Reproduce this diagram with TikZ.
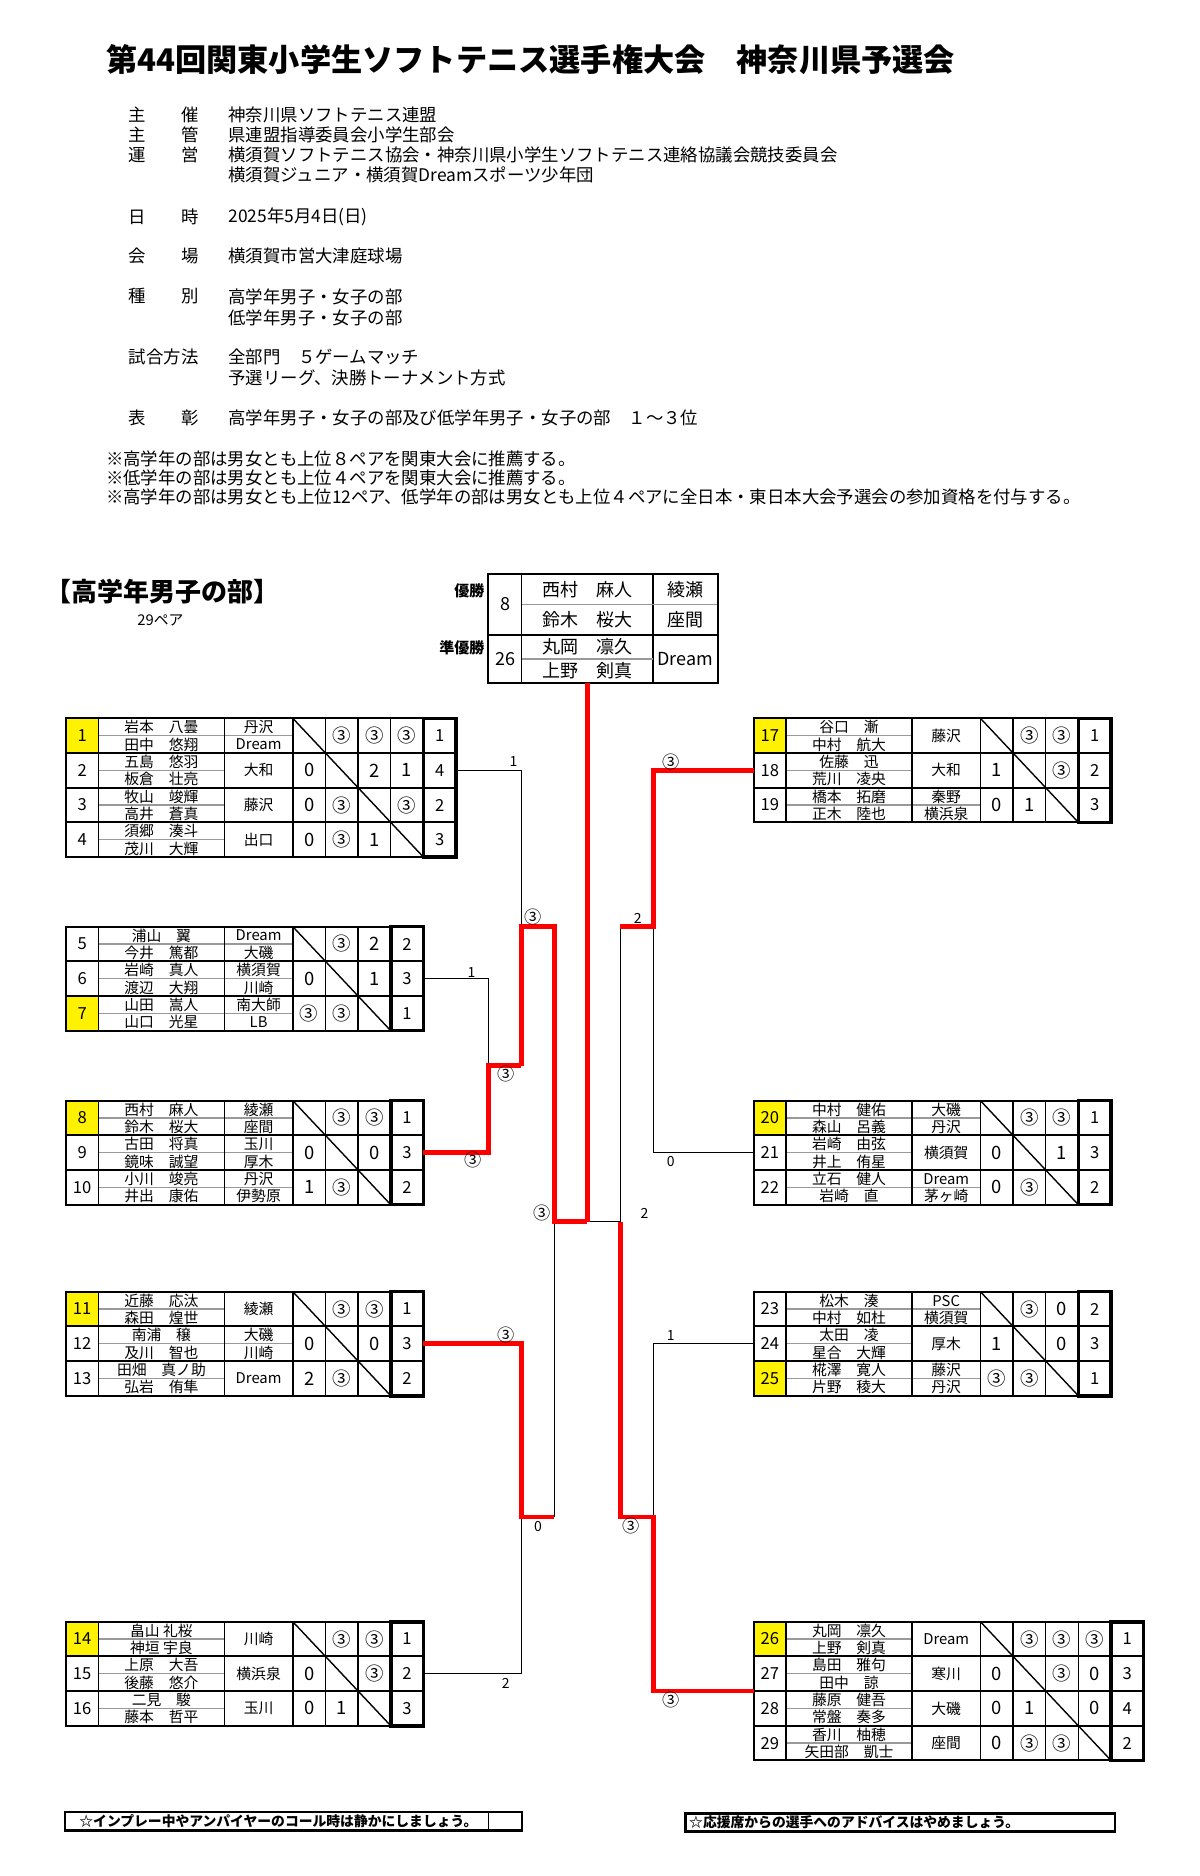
\documentclass[tikz,border=0pt]{standalone}
\usepackage{fontspec}
\setmainfont{Noto Sans CJK JP}
\usetikzlibrary{calc}
\newcommand\jfs[1]{\fontsize{#1pt}{#1pt}\selectfont}
\def\RH{28.9}
\def\SW{27.2}
\newcommand\TabStart[3]{\def\TX{#1}\def\TY{#2}\def\TN{#3}}
\newcommand\Row[9]{%
 \pgfmathsetmacro\RTOP{\TY+(#1-1)*\RH}%
 \pgfmathsetmacro\RMID{\RTOP+\RH/2}%
 \fill[#3] (\TX,\RTOP) rectangle ({\TX+27},{\RTOP+\RH});
 \node[tnum] (p#2) at ({\TX+13.5},\RMID) {#2};
 \node[tname] (p#2a) at ({\TX+79.5},{\RTOP+7.4}) {#4};
 \node[tname] (p#2b) at ({\TX+79.5},{\RTOP+21.8}) {#5};
 \draw[gline] ({\TX+27},\RMID) -- ({\TX+132},\RMID);
 \ifx\relax#7\relax
   \node[tname] (p#2t) at ({\TX+160.5},\RMID) {#6};
 \else
   \node[tname] (p#2t) at ({\TX+160.5},{\RTOP+7.4}) {#6};
   \node[tname] (p#2u) at ({\TX+160.5},{\RTOP+21.8}) {#7};
   \draw[gline] ({\TX+132},\RMID) -- ({\TX+189},\RMID);
 \fi
 \foreach \s [count=\j] in {#8} {\node[tsc] (p#2s\j) at ({\TX+189+(\j-0.5)*\SW},\RMID) {\s};}
 \node[tnum] (p#2r) at ({\TX+189+\TN*\SW+\SW/2},\RMID) {#9};
 \coordinate (p#2R) at ({\TX+189+(\TN+1)*\SW},\RMID);
 \coordinate (p#2L) at (\TX,\RMID);
}
\newcommand\TabEnd{%
 \pgfmathsetmacro\TB{\TY+\TN*\RH}%
 \pgfmathsetmacro\XS{\TX+189}%
 \pgfmathsetmacro\XR{\TX+189+\TN*\SW}%
 \pgfmathsetmacro\XE{\TX+189+(\TN+1)*\SW}%
 \pgfmathtruncatemacro\TM{\TN-1}%
 \foreach \i in {1,...,\TM} {\draw[rowline] (\TX,{\TY+\i*\RH}) -- (\XE,{\TY+\i*\RH});}
 \foreach \o in {27,132,189} {\draw[vline] ({\TX+\o},\TY) -- ({\TX+\o},\TB);}
 \foreach \i in {1,...,\TM} {\draw[vline] ({\XS+\i*\SW},\TY) -- ({\XS+\i*\SW},\TB);}
 \draw[vline] (\XS,\TY) -- (\XR,\TB);
 \draw[border] (\TX,\TY) rectangle (\XE,\TB);
 \draw[rankbox] (\XR,\TY) rectangle (\XE,\TB);
}
\begin{document}
\begin{tikzpicture}[x=0.6pt,y=-0.6pt,
 tname/.style={inner sep=0pt, font=\jfs{7.4}},
 tnum/.style={inner sep=0pt, font=\jfs{8.3}},
 tsc/.style={inner sep=0pt, font=\jfs{9.2}},
 rowline/.style={line width=0.9pt},
 vline/.style={line width=0.7pt},
 gline/.style={line width=0.7pt, draw=black!40},
 border/.style={line width=1pt},
 rankbox/.style={line width=1.8pt},
 redline/.style={draw=red, line width=2.3pt},
 bline/.style={line width=0.6pt},
 blabel/.style={inner sep=0pt, font=\jfs{7}},
 clabel/.style={inner sep=0pt, font=\jfs{8.6}},
 info/.style={anchor=west, inner sep=0pt, font=\jfs{8.7}},
 champ/.style={inner sep=0pt, font=\jfs{9}},
 foot/.style={inner sep=0pt, font=\bfseries\jfs{6.9}},
]
\fill[white] (0,0) rectangle (1000,1563.33);
\useasboundingbox (0,0) rectangle (1000,1563.33);

% title and information
\node[anchor=west, inner sep=0pt, font=\bfseries\jfs{15.6}] (title) at (88,50) {第44回関東小学生ソフトテニス選手権大会　神奈川県予選会};
\node[info] (k1) at (107,96) {主　　催};
\node[info] (v1) at (190,96) {神奈川県ソフトテニス連盟};
\node[info] (k2) at (107,112.5) {主　　管};
\node[info] (v2) at (190,112.5) {県連盟指導委員会小学生部会};
\node[info] (k3) at (107,129) {運　　営};
\node[info] (v3) at (190,129) {横須賀ソフトテニス協会・神奈川県小学生ソフトテニス連絡協議会競技委員会};
\node[info] (v3b) at (190,145.5) {横須賀ジュニア・横須賀Dreamスポーツ少年団};
\node[info] (k4) at (107,180.5) {日　　時};
\node[info] (v4) at (190,180.5) {2025年5月4日(日)};
\node[info] (k5) at (107,213.5) {会　　場};
\node[info] (v5) at (190,213.5) {横須賀市営大津庭球場};
\node[info] (k6) at (107,247) {種　　別};
\node[info] (v6) at (190,247) {高学年男子・女子の部};
\node[info] (v6b) at (190,264.5) {低学年男子・女子の部};
\node[info] (k7) at (107,297) {試合方法};
\node[info] (v7) at (190,297) {全部門　５ゲームマッチ};
\node[info] (v7b) at (190,315) {予選リーグ、決勝トーナメント方式};
\node[info] (k8) at (107,348.6) {表　　彰};
\node[info] (v8) at (190,348.6) {高学年男子・女子の部及び低学年男子・女子の部　１～３位};
\node[info] (n1) at (88,382) {※高学年の部は男女とも上位８ペアを関東大会に推薦する。};
\node[info] (n2) at (88,398) {※低学年の部は男女とも上位４ペアを関東大会に推薦する。};
\node[info] (n3) at (88,414) {※高学年の部は男女とも上位12ペア、低学年の部は男女とも上位４ペアに全日本・東日本大会予選会の参加資格を付与する。};

\node[inner sep=0pt, font=\bfseries\jfs{13}] (sect) at (135,493) {【高学年男子の部】};
\node[inner sep=0pt, font=\jfs{7.4}] (pairs) at (133.7,516.7) {29ペア};

% champion box
\draw[vline] (434.7,478.3) -- (434.7,569.4);
\draw[vline] (544,478.3) -- (544,569.4);
\draw[gline] (434.7,503.6) -- (598,503.6);
\draw[gline] (434.7,549.2) -- (544,549.2);
\draw[line width=1.1pt] (407,529.2) -- (598,529.2);
\draw[border] (407,478.3) rectangle (598,569.4);
\node[inner sep=0pt, anchor=east, font=\bfseries\jfs{7.5}] (lwin) at (404,492) {優勝};
\node[inner sep=0pt, anchor=east, font=\bfseries\jfs{7.5}] (lrun) at (404,540) {準優勝};
\node[champ] (c8) at (421,503.7) {8};
\node[champ] (c26) at (421,549.3) {26};
\node[champ] (cn1) at (489.4,491) {西村　麻人};
\node[champ] (cn2) at (489.4,516.4) {鈴木　桜大};
\node[champ] (cn3) at (489.4,539.2) {丸岡　凛久};
\node[champ] (cn4) at (489.4,559.3) {上野　剣真};
\node[champ] (ct1) at (571,491) {綾瀬};
\node[champ] (ct2) at (571,516.4) {座間};
\node[champ] (ct3) at (571,549.3) {Dream};
\coordinate (champ) at (489.5,569.4);

% left tables
\TabStart{55}{598.6}{4}
\Row{1}{1}{yellow}{岩本　八曇}{田中　悠翔}{丹沢}{Dream}{{},③,③,③}{1}
\Row{2}{2}{white}{五島　悠羽}{板倉　壮亮}{大和}{}{0,{},2,1}{4}
\Row{3}{3}{white}{牧山　竣輝}{高井　蒼真}{藤沢}{}{0,③,{},③}{2}
\Row{4}{4}{white}{須郷　湊斗}{茂川　大輝}{出口}{}{0,③,1,{}}{3}
\TabEnd

\TabStart{55}{772.2}{3}
\Row{1}{5}{white}{浦山　翼}{今井　篤都}{Dream}{大磯}{{},③,2}{2}
\Row{2}{6}{white}{岩崎　真人}{渡辺　大翔}{横須賀}{川崎}{0,{},1}{3}
\Row{3}{7}{yellow}{山田　嵩人}{山口　光星}{南大師}{LB}{③,③,{}}{1}
\TabEnd

\TabStart{55}{917.2}{3}
\Row{1}{8}{yellow}{西村　麻人}{鈴木　桜大}{綾瀬}{座間}{{},③,③}{1}
\Row{2}{9}{white}{古田　将真}{鏡味　誠望}{玉川}{厚木}{0,{},0}{3}
\Row{3}{10}{white}{小川　竣亮}{井出　康佑}{丹沢}{伊勢原}{1,③,{}}{2}
\TabEnd

\TabStart{55}{1076.4}{3}
\Row{1}{11}{yellow}{近藤　応汰}{森田　煌世}{綾瀬}{}{{},③,③}{1}
\Row{2}{12}{white}{南浦　穣}{及川　智也}{大磯}{川崎}{0,{},0}{3}
\Row{3}{13}{white}{田畑　真ノ助}{弘岩　侑隼}{Dream}{}{2,③,{}}{2}
\TabEnd

\TabStart{55}{1351.4}{3}
\Row{1}{14}{yellow}{畠山 礼桜}{神垣 宇良}{川崎}{}{{},③,③}{1}
\Row{2}{15}{white}{上原　大吾}{後藤　悠介}{横浜泉}{}{0,{},③}{2}
\Row{3}{16}{white}{二見　駿}{藤本　哲平}{玉川}{}{0,1,{}}{3}
\TabEnd

% right tables
\TabStart{628}{598.6}{3}
\Row{1}{17}{yellow}{谷口　漸}{中村　航大}{藤沢}{}{{},③,③}{1}
\Row{2}{18}{white}{佐藤　迅}{荒川　凌央}{大和}{}{1,{},③}{2}
\Row{3}{19}{white}{橋本　拓磨}{正木　陸也}{秦野}{横浜泉}{0,1,{}}{3}
\TabEnd

\TabStart{628}{917.2}{3}
\Row{1}{20}{yellow}{中村　健佑}{森山　呂義}{大磯}{丹沢}{{},③,③}{1}
\Row{2}{21}{white}{岩崎　由弦}{井上　侑星}{横須賀}{}{0,{},1}{3}
\Row{3}{22}{white}{立石　健人}{岩崎　直}{Dream}{茅ヶ崎}{0,③,{}}{2}
\TabEnd

\TabStart{628}{1076.4}{3}
\Row{1}{23}{white}{松木　湊}{中村　如杜}{PSC}{横須賀}{{},③,0}{2}
\Row{2}{24}{white}{太田　凌}{星合　大輝}{厚木}{}{1,{},0}{3}
\Row{3}{25}{yellow}{椛澤　寛人}{片野　稜大}{藤沢}{丹沢}{③,③,{}}{1}
\TabEnd

\TabStart{628}{1351.4}{4}
\Row{1}{26}{yellow}{丸岡　凛久}{上野　剣真}{Dream}{}{{},③,③,③}{1}
\Row{2}{27}{white}{島田　雅句}{田中　諒}{寒川}{}{0,{},③,0}{3}
\Row{3}{28}{white}{藤原　健吾}{常盤　奏多}{大磯}{}{0,1,{},0}{4}
\Row{4}{29}{white}{香川　柚穂}{矢田部　凱士}{座間}{}{0,③,③,{}}{2}
\TabEnd
\coordinate (q27) at (628,1409.2);

% bracket junctions
\coordinate (La) at (434.5,772);
\coordinate (Lb) at (462,772);
\coordinate (Lc) at (462,1018);
\coordinate (C) at (489.5,1018);
\coordinate (Ld) at (407,888);
\coordinate (Le) at (434.5,888);
\coordinate (Lf) at (434.5,1264);
\coordinate (Lg) at (462,1264);
\coordinate (Rd) at (517,1018);
\coordinate (Ra) at (517,772);
\coordinate (Rb) at (544.6,772);
\coordinate (Rc) at (517,1264);
\coordinate (Re) at (544.6,1264);

% black connectors
\draw[bline] (p2R) -| (La);
\draw[bline] (p6R) -| (Ld);
\draw[bline] (p15R) -| (Lf);
\draw[bline] (Lg) -- (Lc);
\draw[bline] (C) -- (Rd);
\draw[bline] (Ra) -- (Rd);
\draw[bline] (p21L) -| (Rb);
\draw[bline] (p24L) -| (Re);

% red connectors
\draw[redline] (champ) -- (C);
\draw[redline] (Le) -- (La) -- (Lb) -- (Lc) -- (C);
\draw[redline] (p9R) -| (Ld) -- (Le);
\draw[redline] (p12R) -| (Lf) -- (Lg);
\draw[redline] (p18L) -| (Rb) -- (Ra);
\draw[redline] (Rd) -- (Rc) -- (Re) |- (q27);

% bracket labels
\node[blabel] (b1) at (428,635) {1};
\node[clabel] (b2) at (444,764) {③};
\node[blabel] (b3) at (393,810) {1};
\node[clabel] (b4) at (421.5,895) {③};
\node[clabel] (b5) at (394.4,967) {③};
\node[clabel] (b6) at (452,1011) {③};
\node[blabel] (b7) at (537,1011) {2};
\node[clabel] (b8) at (421.5,1112.5) {③};
\node[blabel] (b9) at (448.3,1272) {0};
\node[blabel] (b10) at (421.5,1403) {2};
\node[clabel] (b11) at (559,635) {③};
\node[blabel] (b12) at (531.4,765) {2};
\node[blabel] (b13) at (559,968) {0};
\node[clabel] (b14) at (526,1272) {③};
\node[blabel] (b15) at (559,1112.5) {1};
\node[clabel] (b16) at (559,1416.5) {③};

% footer notes
\draw[line width=1.3pt] (54,1510) rectangle (435,1525.5);
\draw[line width=0.9pt] (407,1510) -- (407,1525.5);
\node[foot] (f1) at (232,1518) {☆インプレー中やアンパイヤーのコール時は静かにしましょう。};
\draw[line width=1.3pt] (571,1511) rectangle (929,1526);
\node[foot, anchor=west] (f2) at (574,1518.5) {☆応援席からの選手へのアドバイスはやめましょう。};
\end{tikzpicture}
\end{document}
